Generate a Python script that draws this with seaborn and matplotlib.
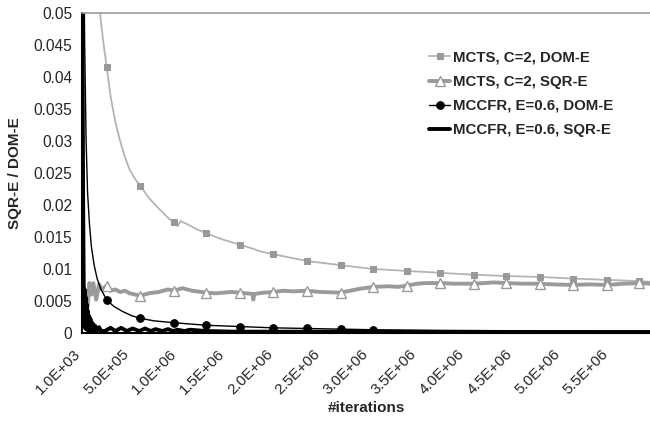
import numpy as np
import pandas as pd
import matplotlib
matplotlib.use("Agg")
import matplotlib.pyplot as plt
import matplotlib.transforms as mtransforms
import seaborn as sns

sns.set_style("white")
plt.rcParams['font.family'] = ['Liberation Sans', 'DejaVu Sans']

# iterations in millions
mark_iters = [0.26, 0.61, 0.96, 1.30, 1.65, 2.0, 2.35, 2.7, 3.04, 3.39,
              3.74, 4.09, 4.43, 4.78, 5.13, 5.48, 5.82]

mcts_dom_x = [0.15, 0.19, 0.22, 0.26, 0.30, 0.35, 0.40, 0.45, 0.50, 0.56, 0.61,
              0.70, 0.80, 0.90, 0.96, 1.0, 1.03, 1.1, 1.2, 1.30, 1.45, 1.65,
              1.8, 1.85, 2.0, 2.35, 2.7, 3.04, 3.39, 3.74, 4.09, 4.43, 4.78,
              5.13, 5.48, 5.82, 5.93]
mcts_dom_y = [0.062, 0.050, 0.046, 0.0415, 0.037, 0.033, 0.030, 0.0275, 0.0255,
              0.024, 0.0230, 0.0211, 0.0195, 0.0180, 0.0173, 0.0167, 0.0175,
              0.0170, 0.0162, 0.0156, 0.0147, 0.0138, 0.0131, 0.0128, 0.0123,
              0.01125, 0.0106, 0.0100, 0.0097, 0.0094, 0.0091, 0.0089, 0.00875,
              0.0085, 0.0083, 0.0081, 0.0080]

mcts_sqr_x = [0.06, 0.08, 0.10, 0.12, 0.15, 0.18, 0.21, 0.26, 0.30, 0.35, 0.40,
              0.45, 0.50, 0.56, 0.61, 0.70, 0.80, 0.90, 0.96, 1.05, 1.15, 1.30,
              1.40, 1.55, 1.65, 1.78, 1.79, 1.80, 1.90, 2.0, 2.1, 2.2, 2.35,
              2.5, 2.7, 2.8, 2.9, 3.04, 3.2, 3.3, 3.39, 3.5, 3.6, 3.74, 3.9,
              4.09, 4.2, 4.3, 4.43, 4.6, 4.78, 4.9, 5.13, 5.3, 5.48, 5.65,
              5.82, 5.93]
mcts_sqr_y = [0.0040, 0.0078, 0.0060, 0.0078, 0.0052, 0.0076, 0.0068, 0.0074,
              0.0066, 0.0068, 0.0064, 0.0066, 0.0062, 0.0060, 0.0058, 0.0062,
              0.0064, 0.0068, 0.0066, 0.0070, 0.0066, 0.0063, 0.0062, 0.0064,
              0.0063, 0.0061, 0.0052, 0.0061, 0.0063, 0.0064, 0.0066, 0.0065,
              0.0066, 0.0064, 0.0063, 0.0066, 0.0069, 0.0072, 0.0073, 0.0072,
              0.0074, 0.0077, 0.0078, 0.0078, 0.0077, 0.0077, 0.0078, 0.0079,
              0.0078, 0.0077, 0.0077, 0.0076, 0.0075, 0.0076, 0.0075, 0.0077,
              0.0078, 0.0077]

mccfr_dom_x = [0.001, 0.02, 0.03, 0.045, 0.06, 0.08, 0.10, 0.13, 0.16, 0.20,
               0.26, 0.33, 0.42, 0.52, 0.61, 0.75, 0.96, 1.30, 1.65, 2.0, 2.35,
               2.7, 3.04, 3.39, 3.74, 4.09, 4.43, 4.78, 5.13, 5.48, 5.82, 5.93]
mccfr_dom_y = [0.09, 0.06, 0.045, 0.030, 0.022, 0.017, 0.0135, 0.0105, 0.0085,
               0.0068, 0.0052, 0.0042, 0.0034, 0.0027, 0.0023, 0.0019, 0.0016,
               0.0012, 0.0010, 0.0008, 0.0007, 0.0006, 0.0005, 0.00045, 0.0004,
               0.00038, 0.00035, 0.00033, 0.00032, 0.0003, 0.0003, 0.0003]
mccfr_dom_last_mark = 3.04

mccfr_sqr_x = [0.001, 0.008, 0.014, 0.02, 0.025, 0.03, 0.035, 0.04, 0.045,
               0.05, 0.055, 0.06, 0.065, 0.07, 0.075, 0.08, 0.085, 0.09, 0.095,
               0.10, 0.11, 0.12, 0.13, 0.14, 0.16, 0.18, 0.20, 0.24, 0.30, 0.35,
               0.41, 0.47, 0.53, 0.60, 0.66, 0.72, 0.77, 0.84, 0.90, 0.95, 1.0,
               1.07, 1.13, 1.3, 1.6, 2.0, 2.5, 3.0, 4.0, 5.0, 5.93]
mccfr_sqr_y = [0.08, 0.045, 0.020, 0.0075, 0.001, 0.0068, 0.0008, 0.0056,
               0.0006, 0.0045, 0.0005, 0.0035, 0.0005, 0.0028, 0.0004, 0.0025,
               0.0004, 0.0022, 0.0004, 0.0018, 0.0004, 0.0014, 0.0004, 0.0011,
               0.0004, 0.0009, 0.0003, 0.0003, 0.0008, 0.0003, 0.0008, 0.0003,
               0.0007, 0.0003, 0.0007, 0.0003, 0.0006, 0.0003, 0.0006, 0.0003,
               0.0005, 0.0003, 0.0005, 0.0003, 0.0002, 0.0002, 0.0002, 0.0002,
               0.00015, 0.00015, 0.00015]

x_ticks = [0.001, 0.5, 1.0, 1.5, 2.0, 2.5, 3.0, 3.5, 4.0, 4.5, 5.0, 5.5]
x_labels = ['1.0E+03', '5.0E+05', '1.0E+06', '1.5E+06', '2.0E+06', '2.5E+06',
            '3.0E+06', '3.5E+06', '4.0E+06', '4.5E+06', '5.0E+06', '5.5E+06']
y_ticks = [0, 0.005, 0.01, 0.015, 0.02, 0.025, 0.03, 0.035, 0.04, 0.045, 0.05]
y_labels = ['0', '0.005', '0.01', '0.015', '0.02', '0.025', '0.03', '0.035',
            '0.04', '0.045', '0.05']


def marks(xs, last=99):
    return [x in mark_iters and x <= last for x in xs]


fig = plt.figure(figsize=(6.5, 4.22), dpi=100)
ax = fig.add_axes([0.126, 0.211, 0.874, 0.758])

sns.lineplot(x=mcts_dom_x, y=mcts_dom_y, ax=ax, color='#b4b4b4', lw=1.3,
             marker='s', markersize=5, markerfacecolor='#999999',
             markeredgecolor='#999999', markevery=marks(mcts_dom_x),
             sort=False, estimator=None, label='MCTS, C=2, DOM-E')
sns.lineplot(x=mcts_sqr_x, y=mcts_sqr_y, ax=ax, color='#9a9a9a', lw=2.8,
             marker='^', markersize=7, markerfacecolor='white',
             markeredgecolor='#9a9a9a', markeredgewidth=1.0,
             markevery=marks(mcts_sqr_x), sort=False, estimator=None,
             label='MCTS, C=2, SQR-E')
sns.lineplot(x=mccfr_dom_x, y=mccfr_dom_y, ax=ax, color='black', lw=1.0,
             marker='o', markersize=5.5, markerfacecolor='black',
             markeredgecolor='black',
             markevery=marks(mccfr_dom_x, mccfr_dom_last_mark),
             sort=False, estimator=None, label='MCCFR, E=0.6, DOM-E')
sns.lineplot(x=mccfr_sqr_x, y=mccfr_sqr_y, ax=ax, color='black', lw=2.8,
             sort=False, estimator=None, label='MCCFR, E=0.6, SQR-E')

ax.set_xlim(0.001, 5.93)
ax.set_ylim(0, 0.05)
ax.set_xticks(x_ticks)
ax.set_xticklabels(x_labels, rotation=45, ha='right', rotation_mode='anchor',
                   fontsize=11)
ax.set_yticks(y_ticks)
ax.set_yticklabels(y_labels, fontsize=11.2)
ax.tick_params(axis='both', length=0, pad=7)
ax.tick_params(axis='x', pad=10)

# shift rotated labels a bit left like the original
shift = mtransforms.ScaledTranslation(-8 / 100, 0, fig.dpi_scale_trans)
for lbl in ax.get_xticklabels():
    lbl.set_transform(lbl.get_transform() + shift)

ax.set_xlabel('#iterations', fontsize=11, fontweight='bold', labelpad=3)
ax.set_ylabel('SQR-E / DOM-E', fontsize=11, fontweight='bold', labelpad=8)

for side in ['left', 'bottom']:
    ax.spines[side].set_color('black')
    ax.spines[side].set_linewidth(1.5)
ax.spines['top'].set_color('#999999')
ax.spines['top'].set_linewidth(1.2)
ax.spines['right'].set_visible(False)

leg = ax.legend(loc='upper left', bbox_to_anchor=(0.588, 0.925), frameon=False,
                handlelength=1.35, handletextpad=0.2, labelspacing=0.68,
                prop={'weight': 'bold', 'size': 10.8})

fig.savefig('out.png', dpi=100)
